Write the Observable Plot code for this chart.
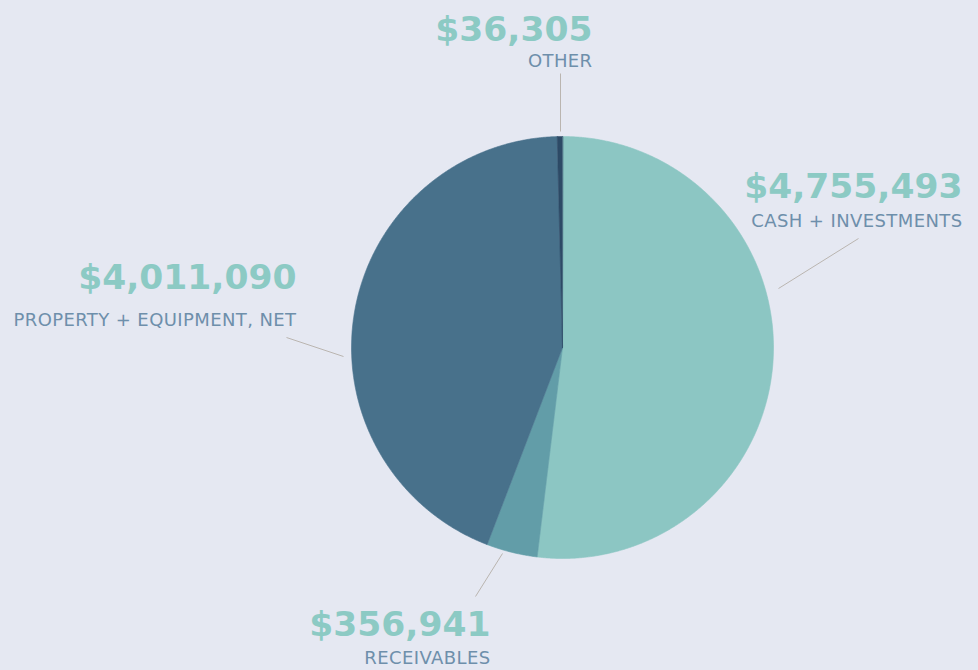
<!DOCTYPE html>
<html><head><meta charset="utf-8">
<script src="https://cdn.jsdelivr.net/npm/d3@7"></script>
<script src="https://cdn.jsdelivr.net/npm/@observablehq/plot@0.6"></script>
<style>html,body{margin:0;padding:0;background:#e5e8f2;overflow:hidden;}
.names text{letter-spacing:0.4px;}</style>
</head><body><div id="chart"></div>
<script>
// ---- data ----
const categories = ["CASH + INVESTMENTS", "RECEIVABLES", "PROPERTY + EQUIPMENT, NET", "OTHER"];
const values = [4755493, 356941, 4011090, 36305];
const valueLabels = ["$4,755,493", "$356,941", "$4,011,090", "$36,305"];
const sliceColors = ["#8cc6c3", "#629da8", "#48718b", "#2d4a66"];

// ---- layout (pixels) ----
const W = 978, H = 670;
const cx = 562, cy = 347, R = 211;
// label anchors (right-aligned text) and leader lines, per category
const labelX = [962, 490, 296, 592];
const valueY = [197, 635, 288, 40];
const nameY = [226, 663, 325, 66];
const leadFrom = [[778, 288], [502, 553], [343, 356], [560, 131]];
const leadTo = [[858, 238], [475, 596], [286, 337], [560, 73]];

const arcs = d3.pie().sort(null).value(d => d)(values);
const pts = [];
arcs.forEach((a, i) => {
  const cat = categories[i];
  pts.push({cat, x: cx, y: cy});
  const n = Math.max(2, Math.ceil((a.endAngle - a.startAngle) / 0.005));
  for (let k = 0; k <= n; k++) {
    const t = a.startAngle + (a.endAngle - a.startAngle) * k / n;
    pts.push({cat, x: cx + R * Math.sin(t), y: cy - R * Math.cos(t)});
  }
});

const labels = categories.map((c, i) => ({
  cat: c, value: valueLabels[i], x: labelX[i], vy: valueY[i], ny: nameY[i],
  x1: leadFrom[i][0], y1: leadFrom[i][1], x2: leadTo[i][0], y2: leadTo[i][1]
}));

const chart = Plot.plot({
  width: W, height: H,
  margin: 0,
  x: {type: "identity", axis: null},
  y: {type: "identity", axis: null},
  color: {domain: categories, range: sliceColors},
  style: {background: "#e5e8f2"},
  marks: [
    Plot.line(pts, {x: "x", y: "y", z: "cat", fill: "cat", stroke: "cat", strokeWidth: 0.6, curve: "linear-closed"}),
    Plot.link(labels, {x1: "x1", y1: "y1", x2: "x2", y2: "y2", stroke: "#bab5b0", strokeWidth: 1}),
    Plot.text(labels, {x: "x", y: "vy", text: "value", textAnchor: "end", lineAnchor: "bottom",
      fill: "#8ccac4", fontFamily: "DejaVu Sans", fontWeight: "bold", fontSize: 34.5}),
    Plot.text(labels, {x: "x", y: "ny", text: "cat", textAnchor: "end", lineAnchor: "bottom",
      fill: "#6e8fab", fontFamily: "DejaVu Sans", fontSize: 18, className: "names"})
  ]
});
document.getElementById("chart").append(chart);
</script>
</body></html>
